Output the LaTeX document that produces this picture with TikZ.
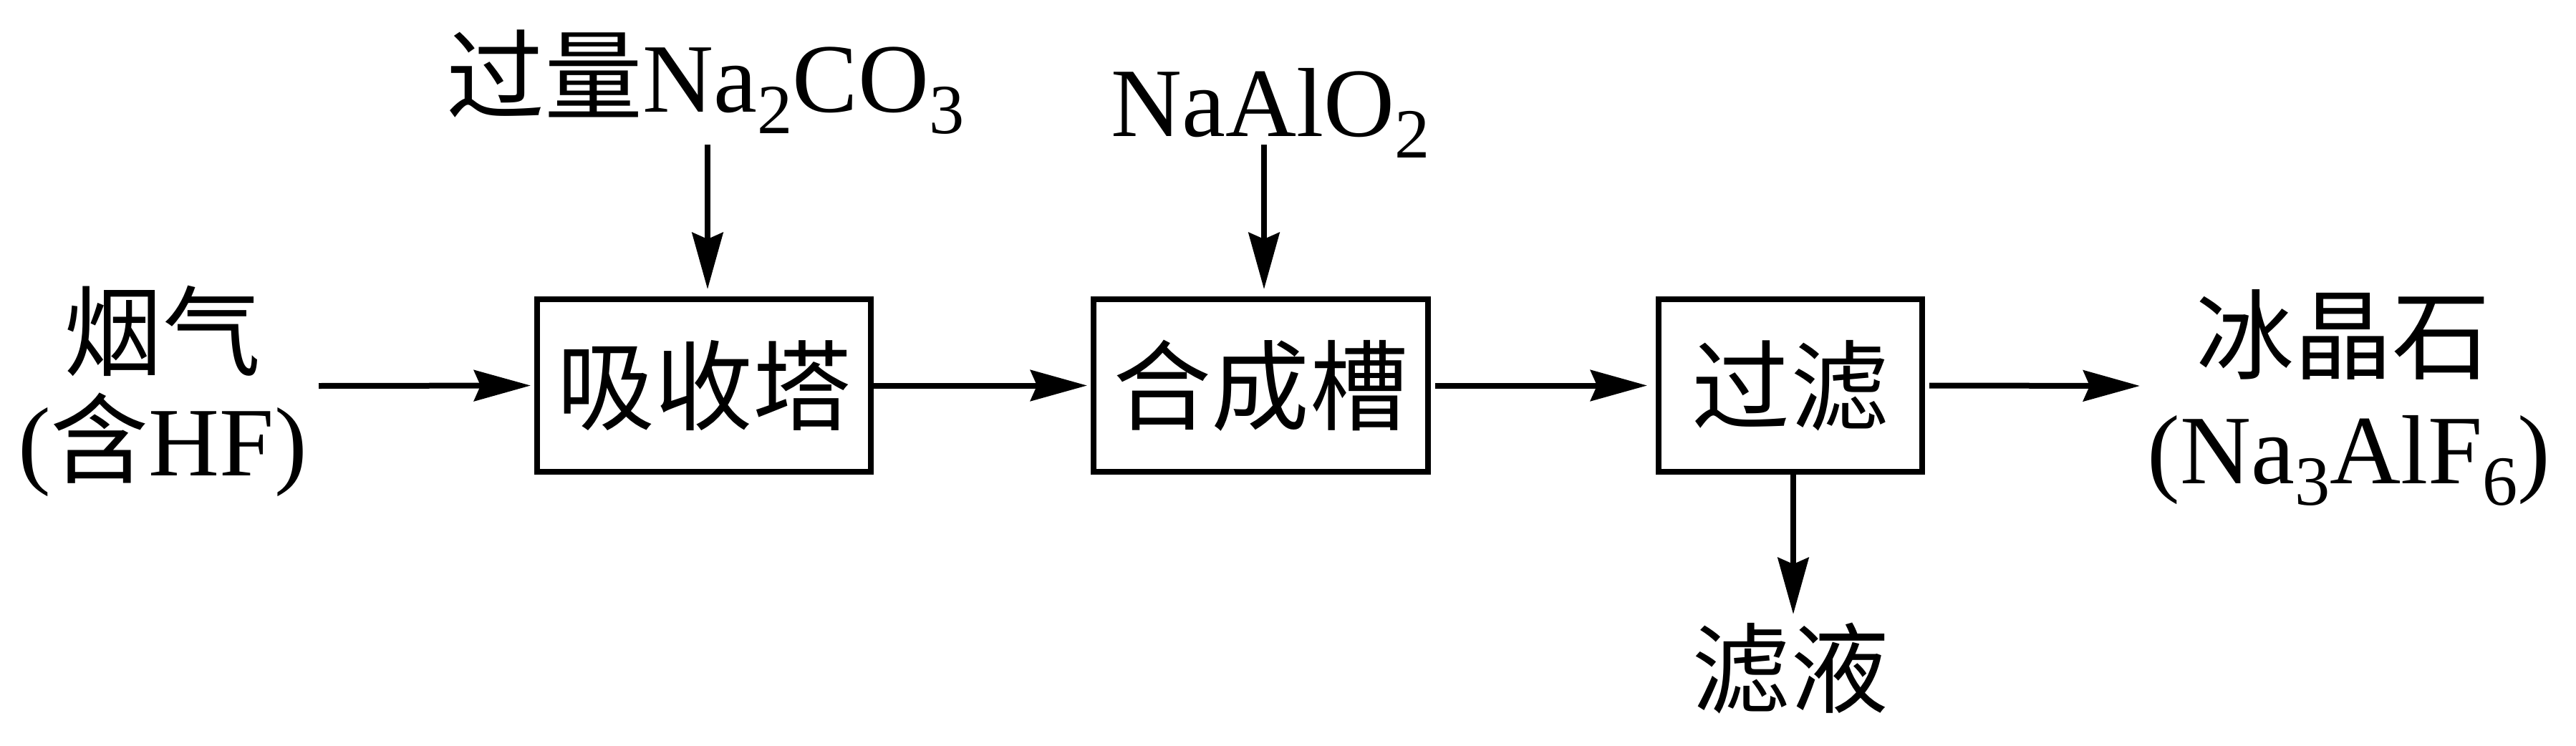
\documentclass[tikz,border=0pt]{standalone}
\usepackage{fontspec}
\setmainfont{Liberation Serif}
\newfontfamily\cjk{Noto Sans CJK SC}
\usetikzlibrary{arrows.meta}
\newcommand{\chemsub}[1]{\raisebox{-0.22em}{\fontsize{28pt}{28pt}\selectfont #1}}
\begin{document}
\begin{tikzpicture}[
  every node/.append style={font=\fontsize{39pt}{42pt}\selectfont},
  procbox/.style={draw, line width=0.08cm, minimum height=2.41cm, inner sep=0pt},
  lbl/.style={anchor=base, inner sep=0pt},
  flow/.style={line width=0.08cm, -{Stealth[length=0.79cm, width=0.43cm, inset=0.09cm]}},
]
\useasboundingbox (0,0) rectangle (35.97,10.41);

% process boxes
\node[procbox, minimum width=4.66cm] (b1) at (9.83,5.025) {\cjk 吸收塔};
\node[procbox, minimum width=4.67cm] (b2) at (17.605,5.025) {\cjk 合成槽};
\node[procbox, minimum width=3.68cm] (b3) at (25.00,5.025) {\cjk 过滤};

% labels
\node[lbl] (gasA) at (2.27,5.27) {\cjk 烟气};
\node[lbl] (gasB) at (2.27,3.77) {({\cjk 含}HF)};
\node[lbl] (soda) at (9.85,8.85) {{\cjk 过量}Na\chemsub{2}CO\chemsub{3}};
\node[lbl] (alum) at (17.74,8.51) {NaAlO\chemsub{2}};
\node[lbl] (prodA) at (32.72,5.22) {\cjk 冰晶石};
\node[lbl] (prodB) at (32.80,3.66) {(Na\chemsub{3}AlF\chemsub{6})};
\node[lbl] (filt) at (25.00,0.56) {\cjk 滤液};

% free ends of connectors
\coordinate (gasin) at (4.45,5.02);
\coordinate (in1) at (9.88,8.39);
\coordinate (in2) at (17.65,8.39);
\coordinate (out) at (29.88,5.02);
\coordinate (dn) at (25.04,1.83);

% connectors
\draw[flow, shorten >=0.05cm] (gasin) -- (b1.west);
\draw[flow, shorten >=0.10cm] (in1) -- (b1.north -| in1);
\draw[flow, shorten >=0.10cm] (in2) -- (b2.north -| in2);
\draw[flow, shorten >=0.05cm] (b1.east) -- (b2.west);
\draw[flow, shorten <=0.06cm, shorten >=0.12cm] (b2.east) -- (b3.west);
\draw[flow, shorten <=0.06cm] (b3.east) -- (out);
\draw[flow] (b3.south -| dn) -- (dn);
\end{tikzpicture}
\end{document}
